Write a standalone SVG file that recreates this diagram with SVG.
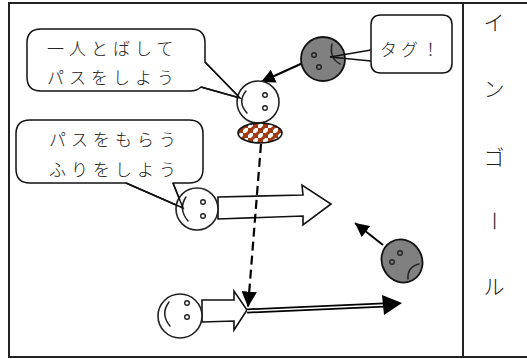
<svg xmlns="http://www.w3.org/2000/svg" width="527" height="359" viewBox="0 0 527 359">
  <style>
    .frame { fill: none; stroke: #222; stroke-width: 2; }
    .bubble { fill: #fff; stroke: #111; stroke-width: 1.5; stroke-linejoin: round; }
    .tail { fill: none; stroke: #111; stroke-width: 1.5; }
    .head-white { fill: #fff; stroke: #222; stroke-width: 1.6; }
    .head-grey { fill: #808080; stroke: #111; stroke-width: 1.8; }
    .eye { fill: none; stroke: #222; stroke-width: 1.4; }
    .mouth { fill: none; stroke: #222; stroke-width: 1.5; stroke-linecap: round; }
    .block { fill: #fff; stroke: #111; stroke-width: 1.6; stroke-linejoin: miter; }
    .run { fill: none; stroke: #000; stroke-width: 2; }
    .pass { fill: none; stroke: #000; stroke-width: 2.2; stroke-dasharray: 9 5; }
    .txt { font-family: "Noto Sans CJK JP", "Noto Sans", sans-serif; font-size: 17px; font-weight: 300; fill: #222; }
    .side { font-family: "Noto Sans CJK JP", "Noto Sans", sans-serif; font-size: 21px; font-weight: 300; fill: #222; text-anchor: middle; }
  </style>
  <defs>
    <marker id="arrow" viewBox="0 0 10 10" refX="10" refY="5" markerWidth="7" markerHeight="7" orient="auto" markerUnits="strokeWidth">
      <path d="M0,0 L10,5 L0,10 Z" fill="#000"/>
    </marker>
    <pattern id="check" width="10" height="10" patternUnits="userSpaceOnUse" x="238" y="123">
      <rect width="10" height="10" fill="#a03a12"/>
      <rect x="0" y="0" width="5" height="5" fill="#fff"/>
      <rect x="5" y="5" width="5" height="5" fill="#fff"/>
      <circle cx="5" cy="5" r="1.8" fill="#a03a12"/>
      <circle cx="0" cy="0" r="1.8" fill="#a03a12"/>
      <circle cx="10" cy="10" r="1.8" fill="#a03a12"/>
    </pattern>
  </defs>

  <!-- court frame and in-goal divider -->
  <g id="court">
    <rect class="frame" x="9" y="3" width="530" height="354"/>
    <line class="frame" x1="463" y1="3" x2="463" y2="357"/>
  </g>

  <!-- in-goal label, set one character per row -->
  <g id="ingoal">
    <text class="side" x="494" y="30">イ</text>
    <text class="side" x="494" y="96">ン</text>
    <text class="side" x="494" y="165">ゴ</text>
    <text class="side" x="494" y="228" transform="rotate(90 494 221)">ー</text>
    <text class="side" x="494" y="294">ル</text>
  </g>

  <!-- speech bubbles -->
  <g id="bubble-pass">
    <path class="bubble" d="M41,29 H191 Q205,29 205,43 V62 L240,98 L201,87 Q197,91 190,91 H41 Q27,91 27,77 V43 Q27,29 41,29 Z"/>
    <text class="txt" x="47" y="55" letter-spacing="5">一人とばして</text>
    <text class="txt" x="47" y="84" letter-spacing="5">パスをしよう</text>
  </g>
  <g id="bubble-fake">
    <path class="bubble" d="M30,120 H189 Q203,120 203,134 V169 Q203,183 189,183 H173 L183,208 L126,183 H30 Q16,183 16,169 V134 Q16,120 30,120 Z"/>
    <text class="txt" x="49" y="146" letter-spacing="5">パスをもらう</text>
    <text class="txt" x="49" y="176" letter-spacing="5">ふりをしよう</text>
  </g>
  <g id="bubble-tag">
    <path class="bubble" d="M381,15 H442 Q452,15 452,25 V63 Q452,73 442,73 H381 Q371,73 371,63 V61 L371,50 V25 Q371,15 381,15 Z"/>
    <text class="txt" x="380" y="56" letter-spacing="4">タグ！</text>
  </g>

  <!-- connectors: runs, tag, pass -->
  <g id="connectors">
    <line class="run" x1="305" y1="62" x2="261" y2="82" marker-end="url(#arrow)"/>
    <line class="run" x1="383" y1="245" x2="355" y2="223" marker-end="url(#arrow)"/>
    <polygon class="block" points="218,197 303,195 302,185 331,204 303,225 303,216 218,219"/>
    <polygon class="block" points="202,300 234,300 234,291 247,310 234,330 234,321 202,322"/>
    <line x1="247" y1="311" x2="384" y2="305" stroke="#000" stroke-width="5"/>
    <line x1="247" y1="311" x2="384" y2="305" stroke="#fff" stroke-width="1.5"/>
    <polygon points="382,295 402,303 384,315" fill="#000"/>
    <line class="pass" x1="261" y1="144" x2="248" y2="307" marker-end="url(#arrow)"/>
  </g>

  <!-- players -->
  <g id="player-ball">
    <circle class="head-white" cx="258" cy="102" r="21"/>
    <circle class="eye" cx="265" cy="95" r="2.3"/>
    <circle class="eye" cx="265" cy="108" r="2.3"/>
    <path class="mouth" d="M246,91 Q237,102 247,113"/>
    <polyline class="tail" points="205,62 240,98 201,87"/>
    <ellipse cx="260" cy="133" rx="22" ry="10" fill="url(#check)" stroke="#111" stroke-width="1.6"/>
  </g>
  <g id="player-fake">
    <circle class="head-white" cx="197" cy="209" r="21"/>
    <circle class="eye" cx="203" cy="202" r="2.3"/>
    <circle class="eye" cx="203" cy="216" r="2.3"/>
    <path class="mouth" d="M186,197 Q178,209 188,221"/>
    <polyline class="tail" points="173,183 183,208 126,183"/>
  </g>
  <g id="player-receiver">
    <circle class="head-white" cx="180" cy="316" r="22"/>
    <circle class="eye" cx="187" cy="303" r="2.3"/>
    <circle class="eye" cx="187" cy="317" r="2.3"/>
    <path class="mouth" d="M169,302 Q160,314 170,326"/>
  </g>
  <g id="defender-tag">
    <circle class="head-grey" cx="323" cy="59" r="22"/>
    <circle class="eye" cx="314" cy="55" r="2.3"/>
    <circle class="eye" cx="319" cy="67" r="2.3"/>
    <path class="mouth" d="M332,44 Q329,58 340,64"/>
    <polyline class="tail" points="371,50 330,57 371,61"/>
  </g>
  <g id="defender-sad">
    <ellipse class="head-grey" cx="402" cy="261" rx="20" ry="22" transform="rotate(-30 402 261)"/>
    <circle class="eye" cx="400" cy="253" r="2.3"/>
    <circle class="eye" cx="392" cy="262" r="2.3"/>
    <path class="mouth" d="M408,279 Q407,267 419,264"/>
  </g>
</svg>
